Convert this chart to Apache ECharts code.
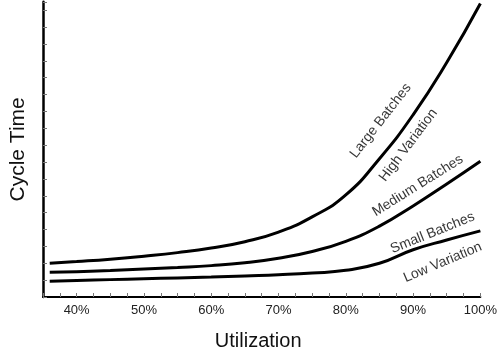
<!DOCTYPE html>
<html>
<head>
<meta charset="utf-8">
<script src="https://cdn.jsdelivr.net/npm/echarts@6/dist/echarts.min.js"></script>
<style>
html,body{margin:0;padding:0;background:#fff;}
#chart{width:500px;height:356px;}
</style>
</head>
<body>
<div id="chart"></div>
<script>
// Utilization (%) sample positions
var utilization = [36, 40, 45, 50, 55, 60, 65, 70, 75, 80, 85, 90, 95, 100];
// Cycle time (arbitrary units) per curve
var largeBatches  = [2.0, 2.1, 2.24, 2.42, 2.63, 2.9, 3.28, 3.85, 4.75, 6.05, 8.2, 10.8, 13.9, 17.4];
var mediumBatches = [1.47, 1.5, 1.57, 1.66, 1.75, 1.86, 2.03, 2.3, 2.7, 3.3, 4.2, 5.4, 6.7, 8.05];
var smallBatches  = [0.94, 0.98, 1.03, 1.08, 1.13, 1.18, 1.25, 1.32, 1.42, 1.58, 2.0, 2.8, 3.38, 3.92];

// Curve annotation texts
var labelTexts = ['Large Batches', 'High Variation', 'Medium Batches', 'Small Batches', 'Low Variation'];

// Annotation placement (data units) and rotation
var labelPlacement = [
  {x: 85.2, y: 10.45, rotate: 52},
  {x: 89.3, y: 9.0,   rotate: 53},
  {x: 90.7, y: 6.6,   rotate: 32},
  {x: 92.9, y: 3.8,   rotate: 22},
  {x: 94.4, y: 2.05,  rotate: 23}
];

var FONT = '"Liberation Sans", Arial, Helvetica, sans-serif';

function pairs(ys) {
  return utilization.map(function (x, i) { return [x, ys[i]]; });
}

function lineSeries(ys) {
  return {
    type: 'line',
    data: pairs(ys),
    showSymbol: false,
    smooth: 0.5,
    silent: true,
    lineStyle: {color: '#000', width: 3},
    z: 3
  };
}

var labelSeries = labelTexts.map(function (t, i) {
  var p = labelPlacement[i];
  return {
    type: 'scatter',
    data: [[p.x, p.y]],
    symbolSize: 0,
    silent: true,
    label: {
      show: true,
      position: 'inside',
      formatter: t,
      rotate: p.rotate,
      color: '#000',
      fontSize: 14,
      fontFamily: FONT
    },
    z: 4
  };
});

var chart = echarts.init(document.getElementById('chart'), null, {renderer: 'canvas'});
chart.setOption({
  animation: false,
  backgroundColor: '#fff',
  grid: {left: 39.5, right: 18.5, top: 1.8, bottom: 56.7, containLabel: false},
  xAxis: {
    type: 'value',
    min: 35, max: 100, interval: 2.5,
    name: 'Utilization',
    nameLocation: 'middle',
    nameGap: 34,
    nameTextStyle: {fontSize: 20, color: '#111', fontFamily: FONT, padding: [0, 7, 0, 0]},
    axisLine: {show: true, lineStyle: {color: '#000', width: 2}},
    axisTick: {show: true, inside: true, length: 4, lineStyle: {color: '#777', width: 1}},
    axisLabel: {
      margin: 7,
      fontSize: 13,
      color: '#222',
      fontFamily: FONT,
      formatter: function (v) { return (Math.abs(v % 10) < 1e-9) ? v + '%' : ''; }
    },
    splitLine: {show: false}
  },
  yAxis: {
    type: 'value',
    min: 0, max: 17.5, interval: 1,
    name: 'Cycle Time',
    nameLocation: 'middle',
    nameGap: 14,
    nameTextStyle: {fontSize: 21, color: '#111', fontFamily: FONT},
    axisLine: {show: true, lineStyle: {color: '#000', width: 2.5}},
    axisTick: {show: true, inside: true, length: 4, lineStyle: {color: '#777', width: 1}},
    axisLabel: {show: false},
    splitLine: {show: false}
  },
  series: [lineSeries(largeBatches), lineSeries(mediumBatches), lineSeries(smallBatches)].concat(labelSeries)
});
</script>
</body>
</html>
